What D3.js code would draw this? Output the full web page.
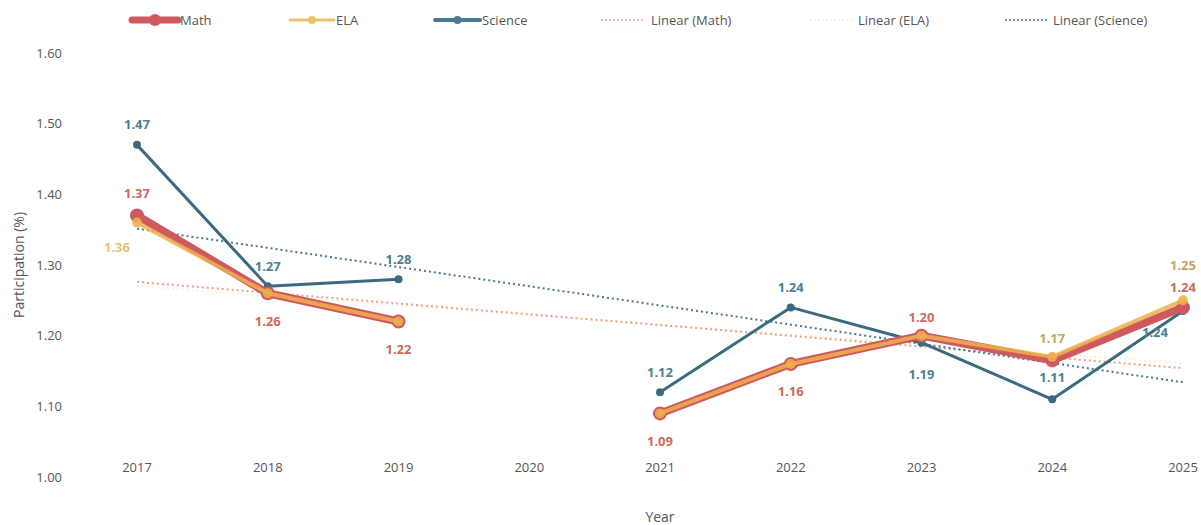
<!DOCTYPE html>
<html><head><meta charset="utf-8">
<script src="https://cdn.jsdelivr.net/npm/d3@7/dist/d3.min.js"></script>
<style>body{margin:0;background:#fff}svg{display:block;font-family:"Open Sans",sans-serif}</style>
</head><body>
<svg id="c" width="1201" height="525"></svg>
<script>
const years = ["2017","2018","2019","2020","2021","2022","2023","2024","2025"];
const mathVals = [1.37,1.26,1.22,null,1.09,1.16,1.20,1.165,1.24];
const elaVals = [1.36,1.26,1.22,null,1.09,1.16,1.20,1.17,1.25];
const sciVals = [1.47,1.27,1.28,null,1.12,1.24,1.19,1.11,1.235];
const yTicks = [1.0,1.1,1.2,1.3,1.4,1.5,1.6];
// label placement (dy offsets) per point
const mathLabelDy = [-22,28,28,null,28,28,-18,null,-20];
const elaLabelDy = [null,null,null,null,null,null,null,-18,-35];
const elaLabelDx = [null,null,null,null,null,null,null,0,0];
const sciLabelDy = [-20,-20,-20,null,-20,-20,32,-22,22];
const sciLabelDx = [0,0,0,null,0,0,0,0,-28];

const svg = d3.select("#c");
const x = d3.scalePoint().domain(years).range([137,1183]);
const y = d3.scaleLinear().domain([1.0,1.6]).range([477,53]);

// y axis labels
svg.append("g").selectAll("text").data(yTicks).join("text")
  .attr("x",62).attr("y",d=>y(d)).attr("dy","0.35em").attr("text-anchor","end")
  .attr("font-size",13).attr("fill","#555").text(d=>d.toFixed(2));
// x axis labels
svg.append("g").selectAll("text").data(years).join("text")
  .attr("x",d=>x(d)).attr("y",472).attr("text-anchor","middle")
  .attr("font-size",13).attr("fill","#555").text(d=>d);
svg.append("text").attr("x",660).attr("y",522).attr("text-anchor","middle")
  .attr("font-size",14).attr("fill","#555").text("Year");
svg.append("text").attr("transform","translate(24,265) rotate(-90)").attr("text-anchor","middle")
  .attr("font-size",14).attr("fill","#555").text("Participation (%)");

function trend(vals){
  const pts = vals.map((v,i)=>[i+1,v]).filter(p=>p[1]!=null);
  const mx=d3.mean(pts,p=>p[0]), my=d3.mean(pts,p=>p[1]);
  const sxy=d3.sum(pts,p=>(p[0]-mx)*(p[1]-my)), sxx=d3.sum(pts,p=>(p[0]-mx)**2);
  const b=sxy/sxx, a=my-b*mx;
  return years.map((yr,i)=>[yr,a+b*(i+1)]);
}
const tl = d3.line().x(d=>x(d[0])).y(d=>y(d[1]));
svg.append("path").attr("d",tl(trend(elaVals))).attr("fill","none").attr("stroke","#f3e6c0").attr("stroke-width",2).attr("stroke-dasharray","2,3").attr("opacity",0.5);
svg.append("path").attr("d",tl(trend(mathVals))).attr("fill","none").attr("stroke","#eba07f").attr("stroke-width",2).attr("stroke-dasharray","2,3");
svg.append("path").attr("d",tl(trend(sciVals))).attr("fill","none").attr("stroke","#4a7a8e").attr("stroke-width",2).attr("stroke-dasharray","2,3");

const line = d3.line().defined(d=>d[1]!=null).x(d=>x(d[0])).y(d=>y(d[1]));
function series(vals,color,w,r,op){
  const data = years.map((yr,i)=>[yr,vals[i]]);
  svg.append("path").attr("d",line(data)).attr("fill","none").attr("stroke",color)
    .attr("stroke-width",w).attr("stroke-linejoin","round").attr("stroke-linecap","round").attr("opacity",op);
  svg.append("g").selectAll("circle").data(data.filter(d=>d[1]!=null)).join("circle")
    .attr("cx",d=>x(d[0])).attr("cy",d=>y(d[1])).attr("r",r).attr("fill",color).attr("opacity",op);
}
series(sciVals,"#3b6b80",3,4,1);
series(mathVals,"#cf5a5e",8,7,1);
series(elaVals,"#eeb050",4,5,0.85);

function labels(vals,dys,dxs,color){
  svg.append("g").selectAll("text").data(years.map((yr,i)=>({yr,v:vals[i],dy:dys[i],dx:dxs?dxs[i]:0})).filter(d=>d.v!=null&&d.dy!=null))
    .join("text").attr("x",d=>x(d.yr)+(d.dx||0)).attr("y",d=>y(d.v)+d.dy).attr("dy","0.35em")
    .attr("text-anchor","middle").attr("font-size",13).attr("font-weight","bold").attr("fill",color)
    .text(d=>d.v.toFixed(2));
}
labels(sciVals,sciLabelDy,sciLabelDx,"#4a7f95");
labels(mathVals,mathLabelDy,null,"#cd6a5c");
labels(elaVals,elaLabelDy,elaLabelDx,"#c9a46a");
// ELA 2017 label left-below
svg.append("text").attr("x",x("2017")-20).attr("y",y(elaVals[0])+25).attr("dy","0.35em").attr("text-anchor","middle")
  .attr("font-size",13).attr("font-weight","bold").attr("fill","#e6c46e").text(elaVals[0].toFixed(2));

// legend
const legend = [
  {name:"Math",x:132,len:46,color:"#cf5a5e",w:7,r:6,dash:null},
  {name:"ELA",x:290,len:44,color:"#e6c46e",w:3,r:4,dash:null},
  {name:"Science",x:435,len:45,color:"#4a7a91",w:4,r:4,dash:null},
  {name:"Linear (Math)",x:601,len:44,color:"#e8a0a0",w:1.5,r:0,dash:"2,2"},
  {name:"Linear (ELA)",x:810,len:42,color:"#f4eedc",w:1.5,r:0,dash:"2,2"},
  {name:"Linear (Science)",x:1005,len:42,color:"#4a7a91",w:1.5,r:0,dash:"2,2"}
];
const lg = svg.append("g").selectAll("g").data(legend).join("g").attr("transform",d=>`translate(${d.x},20)`);
lg.append("line").attr("x1",0).attr("x2",d=>d.len).attr("stroke",d=>d.color).attr("stroke-width",d=>d.w)
  .attr("stroke-linecap",d=>d.dash?"butt":"round").attr("stroke-dasharray",d=>d.dash);
lg.filter(d=>d.r>0).append("circle").attr("cx",d=>d.len/2).attr("r",d=>d.r).attr("fill",d=>d.color);
lg.append("text").attr("x",d=>d.len+(d.dash?6:2)).attr("dy","0.35em").attr("font-size",13).attr("fill","#555").text(d=>d.name);
</script>
</body></html>
